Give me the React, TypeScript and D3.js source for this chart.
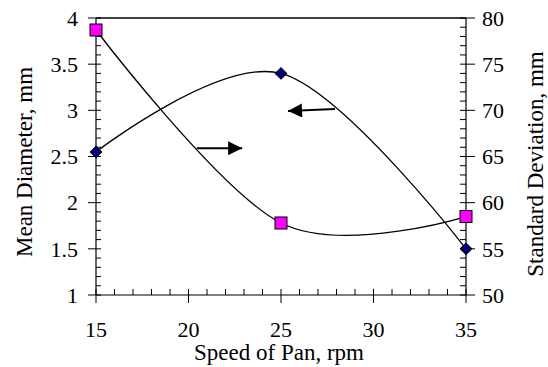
import React, { useEffect, useRef } from 'react';
import * as d3 from 'd3';

const speeds = [15, 25, 35];
const meanDiameter = [2.55, 3.4, 1.5];
const stdDeviation = [78.7, 57.8, 58.5];
const xTicks = [15, 20, 25, 30, 35];
const leftTicks = [1, 1.5, 2, 2.5, 3, 3.5, 4];
const rightTicks = [50, 55, 60, 65, 70, 75, 80];

const App: React.FC = () => {
  const svgRef = useRef<SVGSVGElement | null>(null);

  useEffect(() => {
    const w = 548;
    const h = 367;
    const m = { left: 96, right: 466, top: 18, bottom: 295 };
    const font = "'Liberation Serif', 'Times New Roman', Times, serif";

    const svg = d3.select(svgRef.current).attr('width', w).attr('height', h);
    svg.selectAll('*').remove();

    const x = d3.scaleLinear().domain([15, 35]).range([m.left, m.right]);
    const yL = d3.scaleLinear().domain([1, 4]).range([m.bottom, m.top]);
    const yR = d3.scaleLinear().domain([50, 80]).range([m.bottom, m.top]);

    // top border
    svg.append('line')
      .attr('x1', m.left).attr('x2', m.right)
      .attr('y1', m.top).attr('y2', m.top)
      .attr('stroke', '#000').attr('stroke-width', 1.5);

    // left axis
    const gL = svg.append('g').attr('transform', `translate(${m.left},0)`);
    gL.append('line').attr('y1', m.top).attr('y2', m.bottom).attr('stroke', '#000').attr('stroke-width', 1.2);
    d3.range(1, 4.001, 0.1).forEach((v) => {
      const major = Math.abs(v * 2 - Math.round(v * 2)) < 1e-6;
      gL.append('line')
        .attr('x1', major ? -8 : 0).attr('x2', 5)
        .attr('y1', yL(v)).attr('y2', yL(v))
        .attr('stroke', '#000').attr('stroke-width', 1);
    });
    leftTicks.forEach((v) => {
      gL.append('text')
        .attr('x', -18).attr('y', yL(v))
        .attr('dy', '0.35em').attr('text-anchor', 'end')
        .style('font-family', font).style('font-size', '22px')
        .text(String(v));
    });

    // right axis
    const gR = svg.append('g').attr('transform', `translate(${m.right},0)`);
    gR.append('line').attr('y1', m.top).attr('y2', m.bottom).attr('stroke', '#000').attr('stroke-width', 1.2);
    d3.range(50, 80.001, 1).forEach((v) => {
      const major = v % 5 === 0;
      gR.append('line')
        .attr('x1', -6).attr('x2', major ? 9 : 0)
        .attr('y1', yR(v)).attr('y2', yR(v))
        .attr('stroke', '#000').attr('stroke-width', 1);
    });
    rightTicks.forEach((v) => {
      gR.append('text')
        .attr('x', 16).attr('y', yR(v))
        .attr('dy', '0.35em').attr('text-anchor', 'start')
        .style('font-family', font).style('font-size', '22px')
        .text(String(v));
    });

    // bottom axis
    const gB = svg.append('g').attr('transform', `translate(0,${m.bottom})`);
    gB.append('line').attr('x1', m.left).attr('x2', m.right).attr('stroke', '#000').attr('stroke-width', 1.2);
    d3.range(15, 35.001, 1).forEach((v) => {
      const major = v % 5 === 0;
      gB.append('line')
        .attr('x1', x(v)).attr('x2', x(v))
        .attr('y1', -6).attr('y2', major ? 8 : 0)
        .attr('stroke', '#000').attr('stroke-width', 1);
    });
    xTicks.forEach((v) => {
      gB.append('text')
        .attr('x', x(v)).attr('y', 42)
        .attr('text-anchor', 'middle')
        .style('font-family', font).style('font-size', '22px')
        .text(String(v));
    });

    // axis titles
    svg.append('text')
      .attr('x', 279).attr('y', 360)
      .attr('text-anchor', 'middle')
      .style('font-family', font).style('font-size', '23px')
      .text('Speed of Pan, rpm');
    svg.append('text')
      .attr('transform', `translate(32,162) rotate(-90)`)
      .attr('text-anchor', 'middle')
      .style('font-family', font).style('font-size', '23px')
      .text('Mean Diameter, mm');
    svg.append('text')
      .attr('transform', `translate(543,164) rotate(-90)`)
      .attr('text-anchor', 'middle')
      .style('font-family', font).style('font-size', '23px')
      .text('Standard Deviation, mm');

    // curves
    const lineL = d3.line<number>()
      .x((d, i) => x(speeds[i]))
      .y((d) => yL(d))
      .curve(d3.curveCardinal.tension(0));
    const lineR = d3.line<number>()
      .x((d, i) => x(speeds[i]))
      .y((d) => yR(d))
      .curve(d3.curveCardinal.tension(0));

    svg.append('path').datum(meanDiameter)
      .attr('fill', 'none').attr('stroke', '#000').attr('stroke-width', 1.3)
      .attr('d', lineL);
    svg.append('path').datum(stdDeviation)
      .attr('fill', 'none').attr('stroke', '#000').attr('stroke-width', 1.3)
      .attr('d', lineR);

    // markers
    const diamond = d3.symbol().type(d3.symbolSquare).size(66);
    svg.selectAll('.dia').data(meanDiameter).enter().append('path')
      .attr('d', diamond)
      .attr('transform', (d, i) => `translate(${x(speeds[i])},${yL(d)}) rotate(45)`)
      .attr('fill', '#000080').attr('stroke', '#000').attr('stroke-width', 1);
    svg.selectAll('.sq').data(stdDeviation).enter().append('rect')
      .attr('x', (d, i) => x(speeds[i]) - 6).attr('y', (d) => yR(d) - 6)
      .attr('width', 12).attr('height', 12)
      .attr('fill', '#FF00FF').attr('stroke', '#000').attr('stroke-width', 1);

    // arrows
    const defs = svg.append('defs');
    defs.append('marker')
      .attr('id', 'arrowhead')
      .attr('viewBox', '0 0 10 10')
      .attr('refX', 10).attr('refY', 5)
      .attr('markerWidth', 15).attr('markerHeight', 14)
      .attr('markerUnits', 'userSpaceOnUse')
      .attr('orient', 'auto')
      .append('path').attr('d', 'M0,0 L10,5 L0,10 Z').attr('fill', '#000');

    svg.append('line')
      .attr('x1', x(20.45)).attr('y1', yL(2.59))
      .attr('x2', x(22.9)).attr('y2', yL(2.59))
      .attr('stroke', '#000').attr('stroke-width', 2)
      .attr('marker-end', 'url(#arrowhead)');
    svg.append('line')
      .attr('x1', x(27.92)).attr('y1', yL(3.014))
      .attr('x2', x(25.38)).attr('y2', yL(2.993))
      .attr('stroke', '#000').attr('stroke-width', 2)
      .attr('marker-end', 'url(#arrowhead)');
  }, []);

  return <svg ref={svgRef} style={{ position: 'absolute', left: 0, top: 0, display: 'block' }}></svg>;
};

export default App;
